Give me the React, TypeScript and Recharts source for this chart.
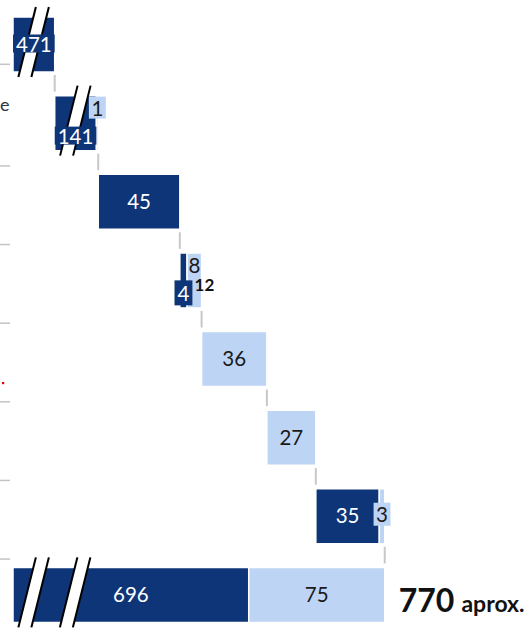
import React from "react";
import { BarChart, Bar, XAxis, YAxis } from "recharts";

// ---- data ----
const categories = ["Paso 1", "Paso 2", "Paso 3", "Paso 4", "Paso 5", "Paso 6", "Paso 7", "Total"];
const darkValues = [471, 141, 45, 4, 0, 0, 35, 696];
const lightValues = [0, 1, 0, 8, 36, 27, 3, 75];
// units removed from the drawn length by the broken axis (//)
const axisCut = [448, 118, 0, 0, 0, 0, 0, 566];
const breakMarks = [1, 1, 0, 0, 0, 0, 0, 2];
const rowSums = ["", "", "", "12", "", "", "", "770"];
const totalSuffix = "aprox.";
const yTickTails = ["", "e", "", "", ".", "", "", ""];

// ---- style ----
const DARK = "#0e3577";
const LIGHT = "#bdd4f5";
const FONT = "Lato, 'DejaVu Sans', sans-serif";
const W = 528;
const H = 640;
const M = { top: 5, right: 0, bottom: 6, left: 0 };
const BAR = 55;
const BAND = (H - M.top - M.bottom) / categories.length;
const GAP = BAND - BAR;
const LABEL_FS = 20.5;

let running = 0;
const data = categories.map((cat, i) => {
  const last = i === categories.length - 1;
  const dark = darkValues[i] - axisCut[i];
  const light = lightValues[i];
  const start = last ? 0 : running;
  if (!last) running = start + dark + light;
  return {
    cat,
    base: start,
    dark,
    light,
    range: [start, start + dark + light],
    darkLabel: darkValues[i],
    lightLabel: lightValues[i],
    breaks: breakMarks[i],
    sum: rowSums[i],
    last,
  };
});

const tw = (s: string, fs: number) => s.length * 0.58 * fs;

const renderTick = (p: any) => {
  const i = p.index;
  const y = p.y;
  const tail = yTickTails[i];
  const lineY = y + (i === 0 ? 20 : 43);
  return (
    <g>
      {i < categories.length - 1 && (
        <line x1={0} x2={10} y1={lineY} y2={lineY} stroke="#c4c4c4" strokeWidth={1.5} />
      )}
      {tail === "e" && (
        <text x={0} y={y - 19} textAnchor="start" dominantBaseline="central" fontSize={18} fontFamily={FONT} fill="#333">
          {tail}
        </text>
      )}
      {tail === "." && (
        <rect x={2} y={382} width={2.2} height={2.2} fill="#e00000" />
      )}
    </g>
  );
};

const Deco = (props: any) => {
  const { x, y, width, height, payload } = props;
  const d = payload;
  const units = d.dark + d.light;
  if (!units || !width) return <g />;
  const ppu = width / units;
  const dx0 = x;
  const dx1 = x + d.dark * ppu;
  const lx1 = dx1 + d.light * ppu;
  const cy = y + height / 2;
  const bottom = y + height;
  const out: any[] = [];

  // axis-break stripes
  for (let k = 0; k < d.breaks; k++) {
    const cxm = dx0 + 20 + 41.5 * k;
    const yT = y - 10;
    const yB = bottom + 5;
    const xAt = (yy: number) => cxm + (cy - yy) * 0.25;
    const h = 6.5;
    out.push(
      <polygon
        key={"s" + k}
        points={`${xAt(yT) - h},${yT} ${xAt(yT) + h},${yT} ${xAt(yB) + h},${yB} ${xAt(yB) - h},${yB}`}
        fill="#fff"
      />
    );
    out.push(<line key={"la" + k} x1={xAt(yT) - h} y1={yT} x2={xAt(yB) - h} y2={yB} stroke="#000" strokeWidth={2} />);
    out.push(<line key={"lb" + k} x1={xAt(yT) + h} y1={yT} x2={xAt(yB) + h} y2={yB} stroke="#000" strokeWidth={2} />);
  }

  // connector to next row
  if (!d.last) {
    out.push(
      <line key="c" x1={lx1} x2={lx1} y1={bottom + 3} y2={bottom + GAP - 4} stroke="#c8c8c8" strokeWidth={2} />
    );
  }

  // labels
  const dText = String(d.darkLabel);
  const lText = String(d.lightLabel);
  const dW = dx1 - dx0;
  const lW = lx1 - dx1;
  const dTw = tw(dText, LABEL_FS);
  const lTw = tw(lText, LABEL_FS);
  const dFits = dW >= dTw + 4;
  const lFits = lW >= lTw + 2;
  const dcx = (dx0 + dx1) / 2;
  const lcx = (dx1 + lx1) / 2;
  const dHalf = (dTw + 6) / 2;
  const lHalf = lFits ? lTw / 2 : (lTw + 5) / 2;
  const stagger = d.dark > 0 && d.light > 0 && dcx + dHalf > lcx - lHalf;

  if (d.dark > 0) {
    const ly = stagger ? bottom - 15 : cy - 1;
    const bh = dFits ? 18 : 25;
    if (!dFits || d.breaks > 0) {
      out.push(<rect key="db" x={dcx - dHalf} y={ly - bh / 2} width={dHalf * 2} height={bh} fill={DARK} />);
    }
    out.push(
      <text key="dt" x={dcx} y={ly} textAnchor="middle" dominantBaseline="central" fontSize={LABEL_FS} fontFamily={FONT} fill="#fff">
        {dText}
      </text>
    );
  }
  if (d.light > 0) {
    const ly = stagger ? y + 12 : lFits ? cy - 1 : cy - 2;
    if (!lFits) {
      const bh = stagger ? 22 : 23;
      out.push(<rect key="lb" x={lcx - lHalf} y={ly - bh / 2} width={lHalf * 2} height={bh} fill={LIGHT} />);
    }
    out.push(
      <text key="lt" x={lcx} y={ly} textAnchor="middle" dominantBaseline="central" fontSize={LABEL_FS} fontFamily={FONT} fill="#1a1a1a">
        {lText}
      </text>
    );
  }

  if (d.sum) {
    if (d.last) {
      out.push(
        <text key="sum" x={lx1 + 14} y={cy + 17} fontFamily={FONT} fontWeight={700} fill="#111">
          <tspan fontSize={32}>{d.sum}</tspan>
          <tspan fontSize={23} dx={7}>{totalSuffix}</tspan>
        </text>
      );
    } else {
      out.push(
        <text key="sum" x={lx1 - 7} y={cy + 4} dominantBaseline="central" fontSize={17} fontWeight={700} fontFamily={FONT} fill="#111">
          {d.sum}
        </text>
      );
    }
  }
  return <g>{out}</g>;
};

export default function App() {
  return (
    <div style={{ position: "absolute", left: 0, top: 0, width: W, height: 631, overflow: "hidden", background: "#fff" }}>
      <BarChart layout="vertical" width={W} height={H} data={data} margin={M} barSize={BAR}>
        <XAxis type="number" domain={[0, 284]} hide />
        <YAxis
          yAxisId="main"
          type="category"
          dataKey="cat"
          width={13}
          interval={0}
          axisLine={{ stroke: "#000", strokeWidth: 2 }}
          tickLine={false}
          tick={renderTick}
        />
        <YAxis yAxisId="deco" type="category" dataKey="cat" hide />
        <Bar yAxisId="main" dataKey="base" stackId="w" fill="transparent" isAnimationActive={false} />
        <Bar yAxisId="main" dataKey="dark" stackId="w" fill={DARK} stroke="#fff" strokeWidth={1.5} isAnimationActive={false} />
        <Bar yAxisId="main" dataKey="light" stackId="w" fill={LIGHT} stroke="#fff" strokeWidth={1.5} isAnimationActive={false} />
        <Bar yAxisId="deco" dataKey="range" fill="none" shape={Deco} isAnimationActive={false} />
      </BarChart>
    </div>
  );
}
